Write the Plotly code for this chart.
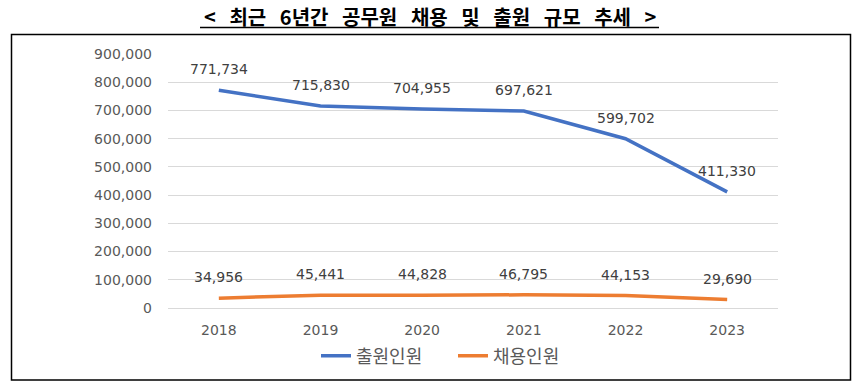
import plotly.graph_objects as go

years = ["2018", "2019", "2020", "2021", "2022", "2023"]
applicants = [771734, 715830, 704955, 697621, 599702, 411330]
hires = [34956, 45441, 44828, 46795, 44153, 29690]
y_ticks = list(range(0, 900001, 100000))
title_text = "< 최근 6년간 공무원 채용 및 출원 규모 추세 >"

W, H = 860, 390
L, R, T, B = 168, 778, 54, 308  # plot area in px

def px_to_paper_x(px):
    return (px - L) / (R - L)

def px_to_paper_y(py):
    return (B - py) / (B - T)

NUMFONT = "DejaVu Sans, sans-serif"
KFONT = "Noto Sans CJK KR, sans-serif"
BLUE = "#4472C4"
ORANGE = "#ED7D31"

fig = go.Figure()
fig.add_trace(go.Scatter(x=years, y=applicants, mode="lines", name="출원인원",
                         line=dict(color=BLUE, width=3.5)))
fig.add_trace(go.Scatter(x=years, y=hires, mode="lines", name="채용인원",
                         line=dict(color=ORANGE, width=3.5)))

for i, v in enumerate(applicants):
    fig.add_annotation(x=i, y=v, xref="x", yref="y", text=f"{v:,}", showarrow=False, yshift=21,
                       font=dict(family=NUMFONT, size=14, color="#404040"))
for i, v in enumerate(hires):
    fig.add_annotation(x=i, y=v, xref="x", yref="y", text=f"{v:,}", showarrow=False, yshift=21,
                       font=dict(family=NUMFONT, size=14, color="#404040"))

# Title
fig.add_annotation(x=px_to_paper_x(430), y=px_to_paper_y(16), xref="paper", yref="paper",
                   text="<b>" + title_text.replace(" ", "\u00a0\u00a0\u00a0") + "</b>",
                   showarrow=False, xanchor="center", yanchor="middle",
                   font=dict(family=KFONT, size=20, color="#000000"))
# Title underline
fig.add_shape(type="line", xref="paper", yref="paper",
              x0=px_to_paper_x(200), x1=px_to_paper_x(659),
              y0=px_to_paper_y(27.5), y1=px_to_paper_y(27.5),
              line=dict(color="#000000", width=1.5))
# Chart border box
fig.add_shape(type="rect", xref="paper", yref="paper",
              x0=px_to_paper_x(11.5), x1=px_to_paper_x(850.5),
              y0=px_to_paper_y(380), y1=px_to_paper_y(34.5),
              line=dict(color="#000000", width=1.5), fillcolor="rgba(0,0,0,0)", layer="below")

fig.update_layout(
    width=W, height=H,
    margin=dict(l=L, r=W - R, t=T, b=H - B, autoexpand=False),
    paper_bgcolor="white", plot_bgcolor="white",
    showlegend=True,
    legend=dict(orientation="h", x=px_to_paper_x(316), xanchor="left",
                y=px_to_paper_y(356), yanchor="middle",
                font=dict(family=KFONT, size=18, color="#595959"),
                entrywidth=92, entrywidthmode="pixels",
                tracegroupgap=0),
)
fig.update_xaxes(type="category", showgrid=False, zeroline=False, showline=False,
                 ticks="", ticklabelstandoff=12,
                 tickfont=dict(family=NUMFONT, size=14, color="#595959"),
                 range=[-0.5, 5.5])
fig.update_yaxes(range=[0, 900000], tickvals=y_ticks,
                 ticktext=[f"{v:,}" for v in y_ticks],
                 showgrid=True, gridcolor="#D9D9D9", gridwidth=1,
                 zeroline=True, zerolinecolor="#D9D9D9", zerolinewidth=1,
                 showline=False, ticks="", ticklabelstandoff=15,
                 tickfont=dict(family=NUMFONT, size=14, color="#595959"))

fig.write_html("out.html", config={"displayModeBar": False},
               post_script="document.body.style.margin='0px';document.body.style.overflow='hidden';")
